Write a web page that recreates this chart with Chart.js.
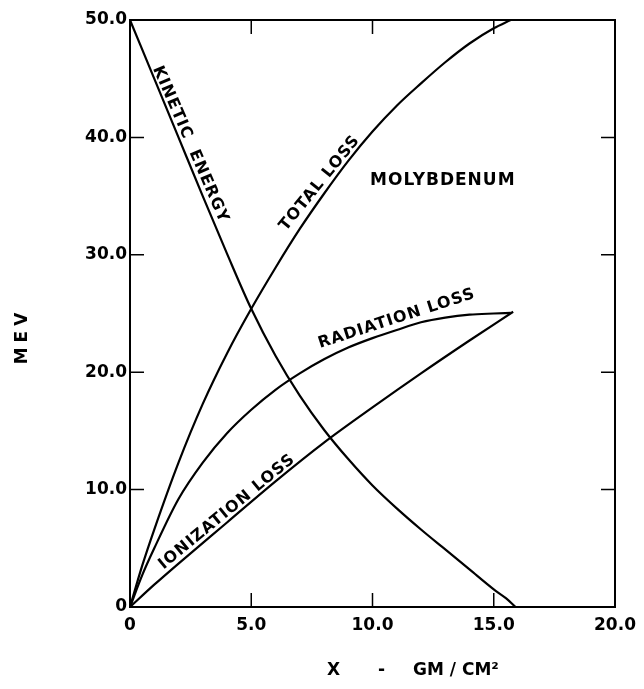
<!DOCTYPE html>
<html>
<head>
<meta charset="utf-8">
<title>Molybdenum - energy loss</title>
<script src="https://cdn.jsdelivr.net/npm/chart.js@4.4.1/dist/chart.umd.min.js"></script>
<style>
  html, body { margin: 0; padding: 0; background: #fff; }
  canvas { display: block; }
</style>
</head>
<body>
<canvas id="chart" width="644" height="689"></canvas>
<script>
// --- DATOS (MEV frente a gm/cm2) ---

const xTicks = [0, 5, 10, 15, 20];
const yTicks = [0, 10, 20, 30, 40, 50];

// Energia cinetica
const kineticX = [0, 1, 2, 3, 4, 5, 6, 7, 8, 9, 10, 11, 12, 13, 14, 15, 15.5, 15.9];
const kineticY = [50, 45.0, 40.0, 35.0, 30.1, 25.4, 21.4, 18.0, 15.1, 12.6, 10.35, 8.4, 6.6, 4.9, 3.2, 1.5, 0.75, 0];

// Perdida total
const totalX = [0, 0.5, 1, 2, 3, 4, 5, 6, 7, 8, 9, 10, 11, 12, 13, 14, 15, 15.7];
const totalY = [0, 3.5, 6.6, 12.3, 17.3, 21.6, 25.4, 28.9, 32.2, 35.2, 38.0, 40.5, 42.7, 44.6, 46.4, 48.0, 49.3, 50];

// Perdida por radiacion
const radiationX = [0, 0.5, 1, 2, 3, 4, 5, 6, 7, 8, 9, 10, 11, 12, 13, 14, 15, 15.7];
const radiationY = [0, 2.7, 5.0, 9.2, 12.3, 14.8, 16.8, 18.5, 19.9, 21.1, 22.1, 22.9, 23.6, 24.25, 24.65, 24.9, 25.0, 25.05];

// Perdida por ionizacion
const ionizationX = [0, 1, 2, 4, 6, 8, 10, 12, 14, 15.8];
const ionizationY = [0, 1.9, 3.7, 7.2, 10.7, 14.0, 17.0, 19.9, 22.7, 25.15];

// --- ESTILO ---
const FONT = "'DejaVu Sans', 'Liberation Sans', sans-serif";
const TICK_LEN = 14;

// Rotulos sobre las curvas (posicion en unidades de los ejes, angulo en grados)
const curveLabels = [
    { text: 'KINETIC  ENERGY', x: 2.49, y: 39.4, angle: 66.5 },
    { text: 'TOTAL LOSS', x: 7.83, y: 36.1, angle: -51 },
    { text: 'RADIATION LOSS', x: 11.0, y: 24.55, angle: -18 },
    { text: 'IONIZATION LOSS', x: 4.0, y: 8.1, angle: -39.5 },
    { text: 'MOLYBDENUM', x: 12.9, y: 36.3, angle: 0, size: 17 }
];

function toPoints(xs, ys) {
    return xs.map((v, i) => ({ x: v, y: ys[i] }));
}

function tickText(v) {
    return v === 0 ? '0' : v.toFixed(1);
}

function curve(label, xs, ys) {
    return {
        label: label,
        data: toPoints(xs, ys),
        showLine: true,
        borderColor: '#000',
        borderWidth: 2.2,
        pointRadius: 0,
        fill: false,
        cubicInterpolationMode: 'monotone'
    };
}

// Marco, marcas interiores, rotulos y titulos de los ejes
const framePlugin = {
    id: 'marco',
    afterDraw(chart) {
        const { ctx, chartArea: a, scales } = chart;
        const xs = scales.x, ys = scales.y;
        ctx.save();
        ctx.strokeStyle = '#000';
        ctx.lineWidth = 2;
        ctx.strokeRect(a.left, a.top, a.right - a.left, a.bottom - a.top);

        ctx.lineWidth = 1.5;
        ctx.beginPath();
        xTicks.forEach(v => {
            if (v <= xs.min || v >= xs.max) return;
            const px = xs.getPixelForValue(v);
            ctx.moveTo(px, a.bottom); ctx.lineTo(px, a.bottom - TICK_LEN);
            ctx.moveTo(px, a.top); ctx.lineTo(px, a.top + TICK_LEN);
        });
        yTicks.forEach(v => {
            if (v <= ys.min || v >= ys.max) return;
            const py = ys.getPixelForValue(v);
            ctx.moveTo(a.left, py); ctx.lineTo(a.left + TICK_LEN, py);
            ctx.moveTo(a.right, py); ctx.lineTo(a.right - TICK_LEN, py);
        });
        ctx.stroke();

        // rotulos de las curvas
        ctx.fillStyle = '#000';
        ctx.textAlign = 'center';
        ctx.textBaseline = 'middle';
        curveLabels.forEach(l => {
            ctx.save();
            ctx.font = 'bold ' + (l.size || 16) + 'px ' + FONT;
            ctx.letterSpacing = '1px';
            ctx.translate(xs.getPixelForValue(l.x), ys.getPixelForValue(l.y));
            ctx.rotate(l.angle * Math.PI / 180);
            ctx.fillText(l.text, 0, 0);
            ctx.restore();
        });

        // titulo eje X
        ctx.font = 'bold 17px ' + FONT;
        ctx.textAlign = 'left';
        ctx.fillText('X', 327, 671);
        ctx.fillText('-', 378, 671);
        ctx.fillText('GM / CM\u00B2', 413, 671);

        // titulo eje Y
        ctx.save();
        ctx.translate(23, 336);
        ctx.rotate(-Math.PI / 2);
        ctx.textAlign = 'center';
        ctx.letterSpacing = '5px';
        ctx.fillText('MEV', 0, 0);
        ctx.restore();

        ctx.restore();
    }
};

const tickFont = { family: FONT, size: 17, weight: 'bold' };

new Chart(document.getElementById('chart'), {
    type: 'scatter',
    data: {
        datasets: [
            curve('Kinetic energy', kineticX, kineticY),
            curve('Total loss', totalX, totalY),
            curve('Radiation loss', radiationX, radiationY),
            curve('Ionization loss', ionizationX, ionizationY)
        ]
    },
    options: {
        responsive: false,
        animation: false,
        devicePixelRatio: 1,
        layout: { padding: { top: 20, right: 29, left: 0, bottom: 0 } },
        plugins: {
            legend: { display: false },
            tooltip: { enabled: false }
        },
        scales: {
            x: {
                type: 'linear',
                min: 0,
                max: 20,
                afterBuildTicks: s => { s.ticks = xTicks.map(v => ({ value: v })); },
                ticks: { callback: tickText, font: tickFont, color: '#000', padding: 8, maxRotation: 0 },
                grid: { display: false, drawTicks: false },
                border: { display: false },
                afterFit: s => { s.height = 82; }
            },
            y: {
                type: 'linear',
                min: 0,
                max: 50,
                afterBuildTicks: s => { s.ticks = yTicks.map(v => ({ value: v })); },
                ticks: { callback: tickText, font: tickFont, color: '#000', padding: 3 },
                grid: { display: false, drawTicks: false },
                border: { display: false },
                afterFit: s => { s.width = 130; }
            }
        }
    },
    plugins: [framePlugin]
});
</script>
</body>
</html>
